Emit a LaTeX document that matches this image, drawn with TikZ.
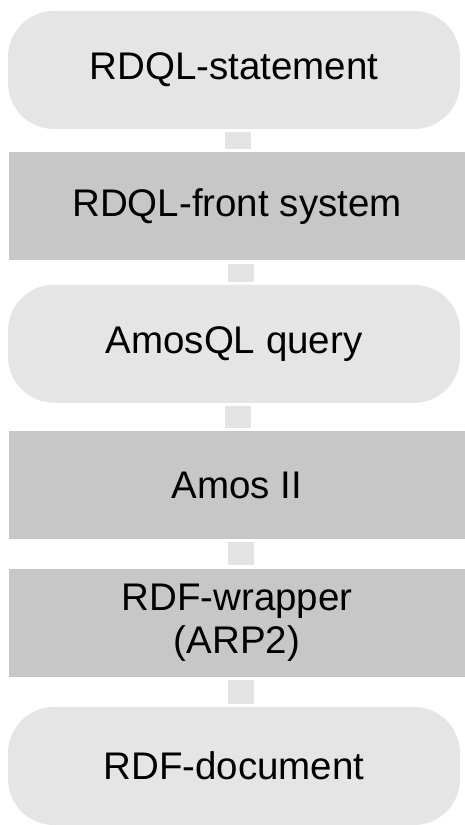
\documentclass[tikz,border=0pt]{standalone}
\usepackage{fontspec}
\setmainfont{Liberation Sans}
\usetikzlibrary{positioning}

\begin{document}
\begin{tikzpicture}[x=1pt, y=1pt]
	\tikzset{
	node distance=24pt, % gap between two layers
	every node/.style={font=\fontsize{38.5}{43}\selectfont, align=center, inner sep=0pt},
	pill/.style={fill=black!10, rounded corners=46pt, minimum width=452pt, minimum height=118pt}, % data layers
	layer/.style={fill=black!22, minimum width=456pt, minimum height=108pt}, % system layers
	link/.style={draw=black!11, line width=26pt, shorten <=3pt, shorten >=3pt} % short grey bars between layers
	}
	\useasboundingbox (0,0) rectangle (465,825);
	\node[pill] (stmt) at (234,755) {RDQL-statement};
	\node[layer, below=23pt of stmt, xshift=3pt] (front) {RDQL-front system};
	\node[pill, below=24pt of front, xshift=-3pt] (amosql) {AmosQL query};
	\node[layer, below=28pt of amosql, xshift=3pt] (amos) {Amos II};
	\node[layer, below=29pt of amos] (wrapper) {RDF-wrapper\\(ARP2)};
	\node[pill, below=30pt of wrapper, xshift=-3pt] (doc) {RDF-document};

	% Links
	\foreach \a/\b in {stmt/front, front/amosql, amosql/amos, amos/wrapper, wrapper/doc}
	  \draw[link] ([xshift=4pt]\a.south) -- ([xshift=4pt]\a.south |- \b.north);
\end{tikzpicture}
\end{document}
